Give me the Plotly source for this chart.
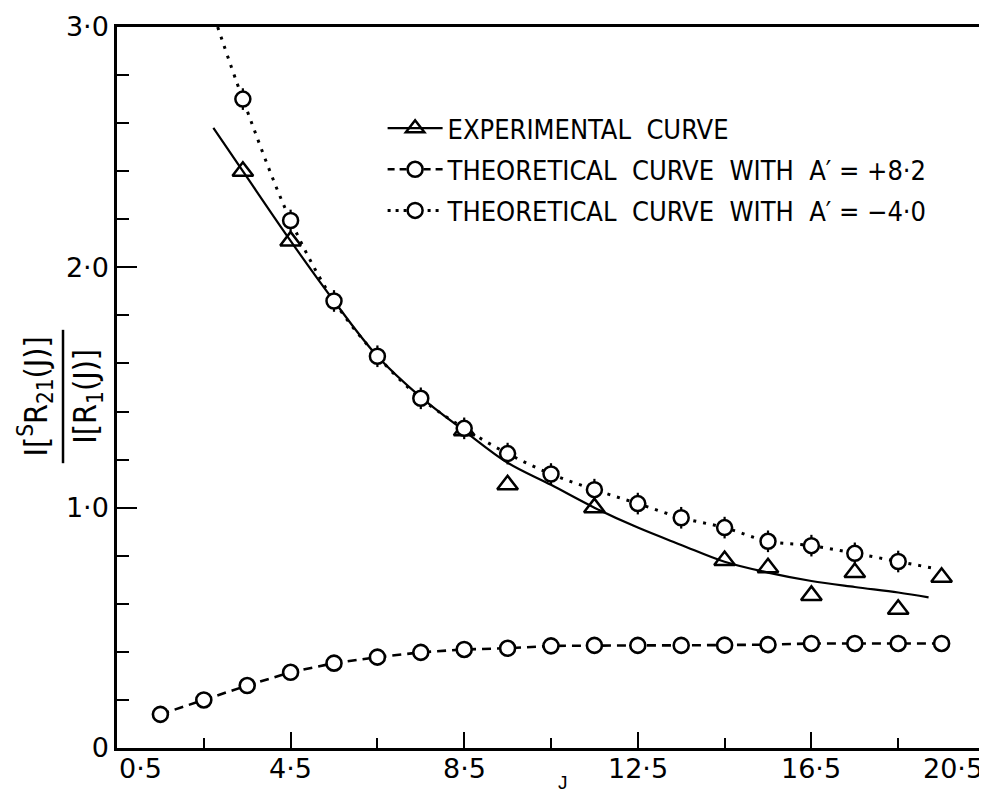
import plotly.graph_objects as go

# ---------------- data ----------------
# Theoretical curve with A' = +8.2 (dashed line, open circles)
J_plus8 = [1.5, 2.5, 3.5, 4.5, 5.5, 6.5, 7.5, 8.5, 9.5, 10.5,
           11.5, 12.5, 13.5, 14.5, 15.5, 16.5, 17.5, 18.5, 19.5]
ratio_plus8 = [0.14, 0.20, 0.26, 0.315, 0.353, 0.378, 0.398, 0.41, 0.415, 0.425,
               0.427, 0.427, 0.427, 0.428, 0.43, 0.435, 0.435, 0.435, 0.435]

# Theoretical curve with A' = -4.0 (dotted line, circles with bars)
J_minus4 = [3.4, 4.5, 5.5, 6.5, 7.5, 8.5, 9.5, 10.5, 11.5, 12.5,
            13.5, 14.5, 15.5, 16.5, 17.5, 18.5]
ratio_minus4 = [2.70, 2.195, 1.86, 1.63, 1.455, 1.33, 1.225, 1.14, 1.075, 1.017,
                0.958, 0.917, 0.86, 0.842, 0.81, 0.776]
bar_minus4 = 0.045
# dotted theoretical line (runs off the top of the frame and ends at J=19.4)
curve_minus4_J = [2.82, 3.4, 4.5, 5.5, 6.5, 7.5, 8.5, 9.5, 10.5, 11.5, 12.5,
                  13.5, 14.5, 15.5, 16.5, 17.5, 18.5, 19.4]
curve_minus4_val = [3.0, 2.70, 2.195, 1.86, 1.63, 1.455, 1.33, 1.225, 1.14, 1.075, 1.017,
                    0.958, 0.917, 0.86, 0.842, 0.81, 0.776, 0.745]

# Experimental points (open triangles)
J_exp = [3.4, 4.5, 8.5, 9.5, 11.5, 14.5, 15.5, 16.5, 17.5, 18.5, 19.5]
ratio_exp = [2.40, 2.11, 1.32, 1.095, 1.0, 0.78, 0.75, 0.635, 0.73, 0.577, 0.71]

# Experimental curve (smooth solid line)
fit_J = [2.72, 3.4, 4.5, 5.5, 6.5, 7.5, 8.5, 9.5, 10.5, 11.5, 12.5,
         13.5, 14.5, 15.5, 16.5, 17.5, 18.5, 19.2]
fit_val = [2.58, 2.40, 2.11, 1.86, 1.63, 1.46, 1.32, 1.187, 1.095, 1.0, 0.917,
           0.845, 0.775, 0.73, 0.695, 0.67, 0.647, 0.627]

x_tickvals = [0.5, 4.5, 8.5, 12.5, 16.5, 20.5]
x_ticklabels = ["0·5", "4·5", "8·5", "12·5", "16·5", "20·5"]
y_tickvals = [0, 1, 2, 3]
y_ticklabels = ["0", "1·0", "2·0", "3·0"]

legend_labels = ["EXPERIMENTAL  CURVE",
                 "THEORETICAL  CURVE  WITH  A′ = +8·2",
                 "THEORETICAL  CURVE  WITH  A′ = −4·0"]

# ---------------- styling ----------------
INK = "black"
LETTER_FONT = "DejaVu Sans Condensed, Liberation Sans Narrow, DejaVu Sans"
TICK_FONT = "DejaVu Sans"
PAGE_INSET = 8  # default body margin of the html page

fig = go.Figure()

# experimental smooth curve
fig.add_trace(go.Scatter(x=fit_J, y=fit_val, mode="lines", line_shape="spline",
                         line=dict(color=INK, width=2.2), showlegend=False,
                         hoverinfo="skip"))
# dotted theoretical curve A'=-4.0
fig.add_trace(go.Scatter(x=curve_minus4_J, y=curve_minus4_val, mode="lines",
                         line_shape="spline",
                         line=dict(color=INK, width=3, dash="3px,7px"),
                         showlegend=False, hoverinfo="skip"))
# experimental triangles
fig.add_trace(go.Scatter(x=J_exp, y=ratio_exp, mode="markers",
                         marker=dict(symbol="triangle-up-open", size=18,
                                     color=INK, line=dict(width=2.5, color=INK)),
                         showlegend=False))
# circles with bars A'=-4.0
fig.add_trace(go.Scatter(x=J_minus4, y=ratio_minus4, mode="markers",
                         error_y=dict(type="constant", value=bar_minus4,
                                      color=INK, thickness=2.2, width=0),
                         marker=dict(symbol="circle", size=15, color="white",
                                     line=dict(width=2.5, color=INK)),
                         showlegend=False))
# dashed theoretical curve A'=+8.2
fig.add_trace(go.Scatter(x=J_plus8, y=ratio_plus8, mode="lines+markers",
                         line=dict(color=INK, width=2.6, dash="9px,6px"),
                         marker=dict(symbol="circle", size=15, color="white",
                                     line=dict(width=2.6, color=INK)),
                         showlegend=False))

# legend entries
fig.add_trace(go.Scatter(x=[None], y=[None], mode="lines+markers", name=legend_labels[0],
                         line=dict(color=INK, width=2.2),
                         marker=dict(symbol="triangle-up-open", size=18, color=INK,
                                     line=dict(width=2.5, color=INK)),
                         legendgroup="a"))
fig.add_trace(go.Scatter(x=[None], y=[None], mode="lines+markers", name=legend_labels[1],
                         line=dict(color=INK, width=2.6, dash="7px,5px"),
                         marker=dict(symbol="circle", size=15, color="white",
                                     line=dict(width=2.6, color=INK)),
                         legendgroup="b"))
fig.add_trace(go.Scatter(x=[None], y=[None], mode="lines+markers", name=legend_labels[2],
                         line=dict(color=INK, width=3, dash="3px,5px"),
                         marker=dict(symbol="circle", size=15, color="white",
                                     line=dict(width=2.5, color=INK)),
                         legendgroup="c"))

axis_common = dict(showgrid=False, zeroline=False, showline=True, linecolor=INK,
                   linewidth=2.5, mirror=True, ticks="inside", tickcolor=INK,
                   tickwidth=2, automargin=False,
                   tickfont=dict(family=TICK_FONT, size=27, color=INK))

# x tick labels drawn as annotations so the end labels can sit inside the frame
fig.update_xaxes(range=[0.5, 20.5], tickvals=x_tickvals, showticklabels=False,
                 ticklen=16,
                 minor=dict(tickvals=[2.5, 6.5, 10.5, 14.5, 18.5],
                            ticks="inside", ticklen=10, tickcolor=INK, tickwidth=2),
                 **axis_common)
fig.update_yaxes(range=[0, 3.0], tickvals=y_tickvals, ticktext=y_ticklabels,
                 ticklen=20, minor=dict(dtick=0.2, ticks="inside", ticklen=12,
                                        tickcolor=INK, tickwidth=2),
                 **axis_common)

x_label_annots = []
for i, (v, t) in enumerate(zip(x_tickvals, x_ticklabels)):
    anchor = "left" if i == 0 else ("right" if i == len(x_tickvals) - 1 else "center")
    x_label_annots.append(dict(text=t, xref="x", yref="paper", x=v, y=-0.029,
                               xanchor=anchor, yanchor="middle", showarrow=False,
                               font=dict(family=TICK_FONT, size=27, color=INK)))

fig.update_layout(
    width=987 - PAGE_INSET, height=796 - PAGE_INSET,
    margin=dict(l=117 - PAGE_INSET, r=2, t=27 - PAGE_INSET, b=48, autoexpand=False),
    paper_bgcolor="white", plot_bgcolor="white",
    font=dict(family=LETTER_FONT, size=27, color=INK),
    legend=dict(x=0.306, y=0.893, xanchor="left", yanchor="top",
                bgcolor="rgba(0,0,0,0)", borderwidth=0, itemwidth=55,
                tracegroupgap=3, font=dict(family=LETTER_FONT, size=27, color=INK)),
    annotations=x_label_annots + [
        dict(text="I[<sup>S</sup>R<sub>21</sub>(J)]", xref="paper", yref="paper",
             x=-0.094, y=0.488, xanchor="center", yanchor="middle",
             textangle=-90, showarrow=False,
             font=dict(family=LETTER_FONT, size=32, color=INK)),
        dict(text="I[R<sub>1</sub>(J)]", xref="paper", yref="paper",
             x=-0.034, y=0.488, xanchor="center", yanchor="middle",
             textangle=-90, showarrow=False,
             font=dict(family=LETTER_FONT, size=32, color=INK)),
        dict(text="J", xref="paper", yref="paper", x=0.514, y=-0.0305,
             xanchor="center", yanchor="top", showarrow=False,
             font=dict(family="Liberation Sans", size=19, color=INK)),
    ],
    shapes=[dict(type="line", xref="paper", yref="paper", x0=-0.0622, x1=-0.0622,
                 y0=0.395, y1=0.58, line=dict(color=INK, width=2.5))],
)

fig.write_html("out.html")
